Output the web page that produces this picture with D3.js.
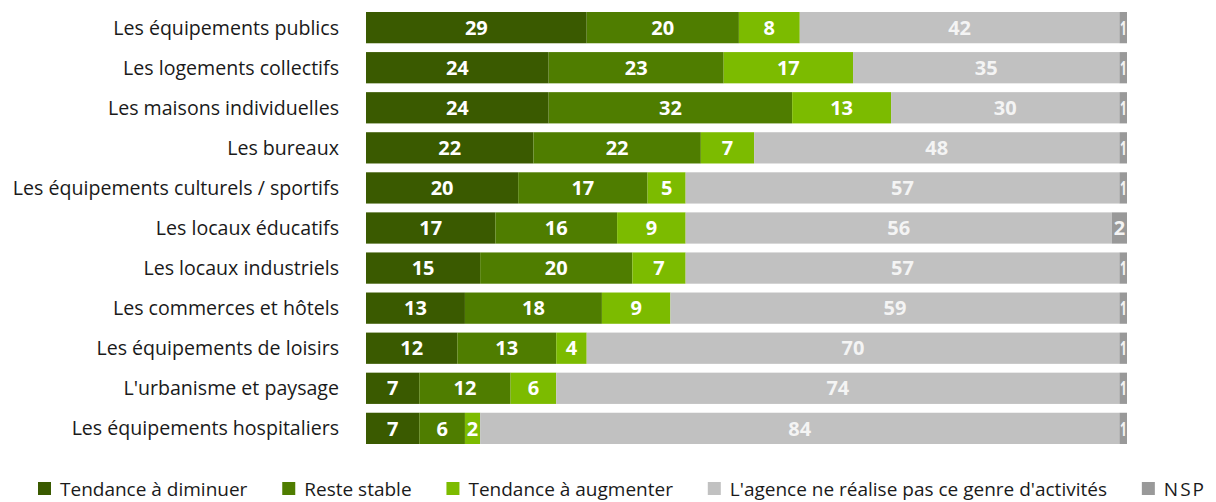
<!DOCTYPE html>
<html>
<head>
<meta charset="utf-8">
<script src="https://cdn.jsdelivr.net/npm/d3@7"></script>
<style>
  body { margin: 0; background: #fff; }
  svg { display: block; }
</style>
</head>
<body>
<div id="chart"></div>
<script>
// categories (top to bottom)
const categories = [
  "Les équipements publics",
  "Les logements collectifs",
  "Les maisons individuelles",
  "Les bureaux",
  "Les équipements culturels / sportifs",
  "Les locaux éducatifs",
  "Les locaux industriels",
  "Les commerces et hôtels",
  "Les équipements de loisirs",
  "L'urbanisme et paysage",
  "Les équipements hospitaliers"
];

const seriesNames = [
  "Tendance à diminuer",
  "Reste stable",
  "Tendance à augmenter",
  "L'agence ne réalise pas ce genre d'activités",
  "NSP"
];

const diminuer    = [29, 24, 24, 22, 20, 17, 15, 13, 12, 7, 7];
const stable      = [20, 23, 32, 22, 17, 16, 20, 18, 13, 12, 6];
const augmenter   = [8, 17, 13, 7, 5, 9, 7, 9, 4, 6, 2];
const pasActivite = [42, 35, 30, 48, 57, 56, 57, 59, 70, 74, 84];
const nsp         = [1, 1, 1, 1, 1, 2, 1, 1, 1, 1, 1];

const colors = ["#3a5a00", "#4f7d00", "#7cbb00", "#c1c1c1", "#999999"];
const labelColors = ["#ffffff", "#ffffff", "#ffffff", "#f4f4f4", "#f4f4f4"];

const width = 1216, height = 502;
const margin = { left: 366, right: 89, top: 8, bottom: 54 };
const font = "'Open Sans', 'Liberation Sans', sans-serif";

const rows = categories.map((c, i) => ({
  cat: c,
  values: [diminuer[i], stable[i], augmenter[i], pasActivite[i], nsp[i]]
}));

const svg = d3.select("#chart")
  .append("svg")
  .attr("width", width)
  .attr("height", height);

const x = d3.scaleLinear()
  .domain([0, 100])
  .range([margin.left, width - margin.right]);

const y = d3.scaleBand()
  .domain(categories)
  .range([margin.top, height - margin.bottom])
  .paddingInner(0.22)
  .paddingOuter(0.1);

// category labels
svg.append("g")
  .selectAll("text")
  .data(categories)
  .enter()
  .append("text")
  .attr("x", 339)
  .attr("y", d => y(d) + y.bandwidth() / 2)
  .attr("dy", "0.36em")
  .attr("text-anchor", "end")
  .attr("font-family", font)
  .attr("font-size", "19.6px")
  .attr("fill", "#1a1a1a")
  .text(d => d);

// segments
const segs = [];
rows.forEach(r => {
  let acc = 0;
  r.values.forEach((v, k) => {
    segs.push({ cat: r.cat, k: k, v: v, x0: acc, x1: acc + v });
    acc += v;
  });
});

const g = svg.append("g");

g.selectAll("rect")
  .data(segs)
  .enter()
  .append("rect")
  .attr("x", d => x(d.x0))
  .attr("y", d => y(d.cat))
  .attr("width", d => x(d.x1) - x(d.x0))
  .attr("height", y.bandwidth())
  .attr("fill", d => colors[d.k]);

const labels = g.selectAll("text.val")
  .data(segs)
  .enter()
  .append("text")
  .attr("class", "val")
  .attr("x", d => (x(d.x0) + x(d.x1)) / 2)
  .attr("y", d => y(d.cat) + y.bandwidth() / 2)
  .attr("dy", "0.36em")
  .attr("text-anchor", "middle")
  .attr("font-family", font)
  .attr("font-weight", "bold")
  .attr("font-size", "20px")
  .attr("fill", d => labelColors[d.k])
  .text(d => d.v);

// squeeze labels that do not fit the narrow segments
labels.each(function(d) {
  const w = x(d.x1) - x(d.x0) - 1;
  const len = this.getComputedTextLength();
  if (len > w) {
    d3.select(this)
      .attr("textLength", w)
      .attr("lengthAdjust", "spacingAndGlyphs");
  }
});

// legend, spread from x=38 to x=1206
const legend = svg.append("g");
const items = seriesNames.map((name, k) => {
  const it = legend.append("g");
  it.append("rect")
    .attr("x", 0)
    .attr("y", -7)
    .attr("width", 13)
    .attr("height", 13)
    .attr("fill", colors[k]);
  const t = it.append("text")
    .attr("x", 22)
    .attr("y", 0)
    .attr("dy", "0.35em")
    .attr("font-family", font)
    .attr("font-size", "19px")
    .attr("fill", "#1a1a1a")
    .text(name);
  if (name === "NSP") t.attr("letter-spacing", "2px");
  return { it: it, w: 22 + t.node().getComputedTextLength() };
});
const totalW = d3.sum(items, d => d.w);
const gap = (1206 - 38 - totalW) / (items.length - 1);
let lx = 38;
items.forEach(d => {
  d.it.attr("transform", `translate(${lx},489)`);
  lx += d.w + gap;
});
</script>
</body>
</html>
